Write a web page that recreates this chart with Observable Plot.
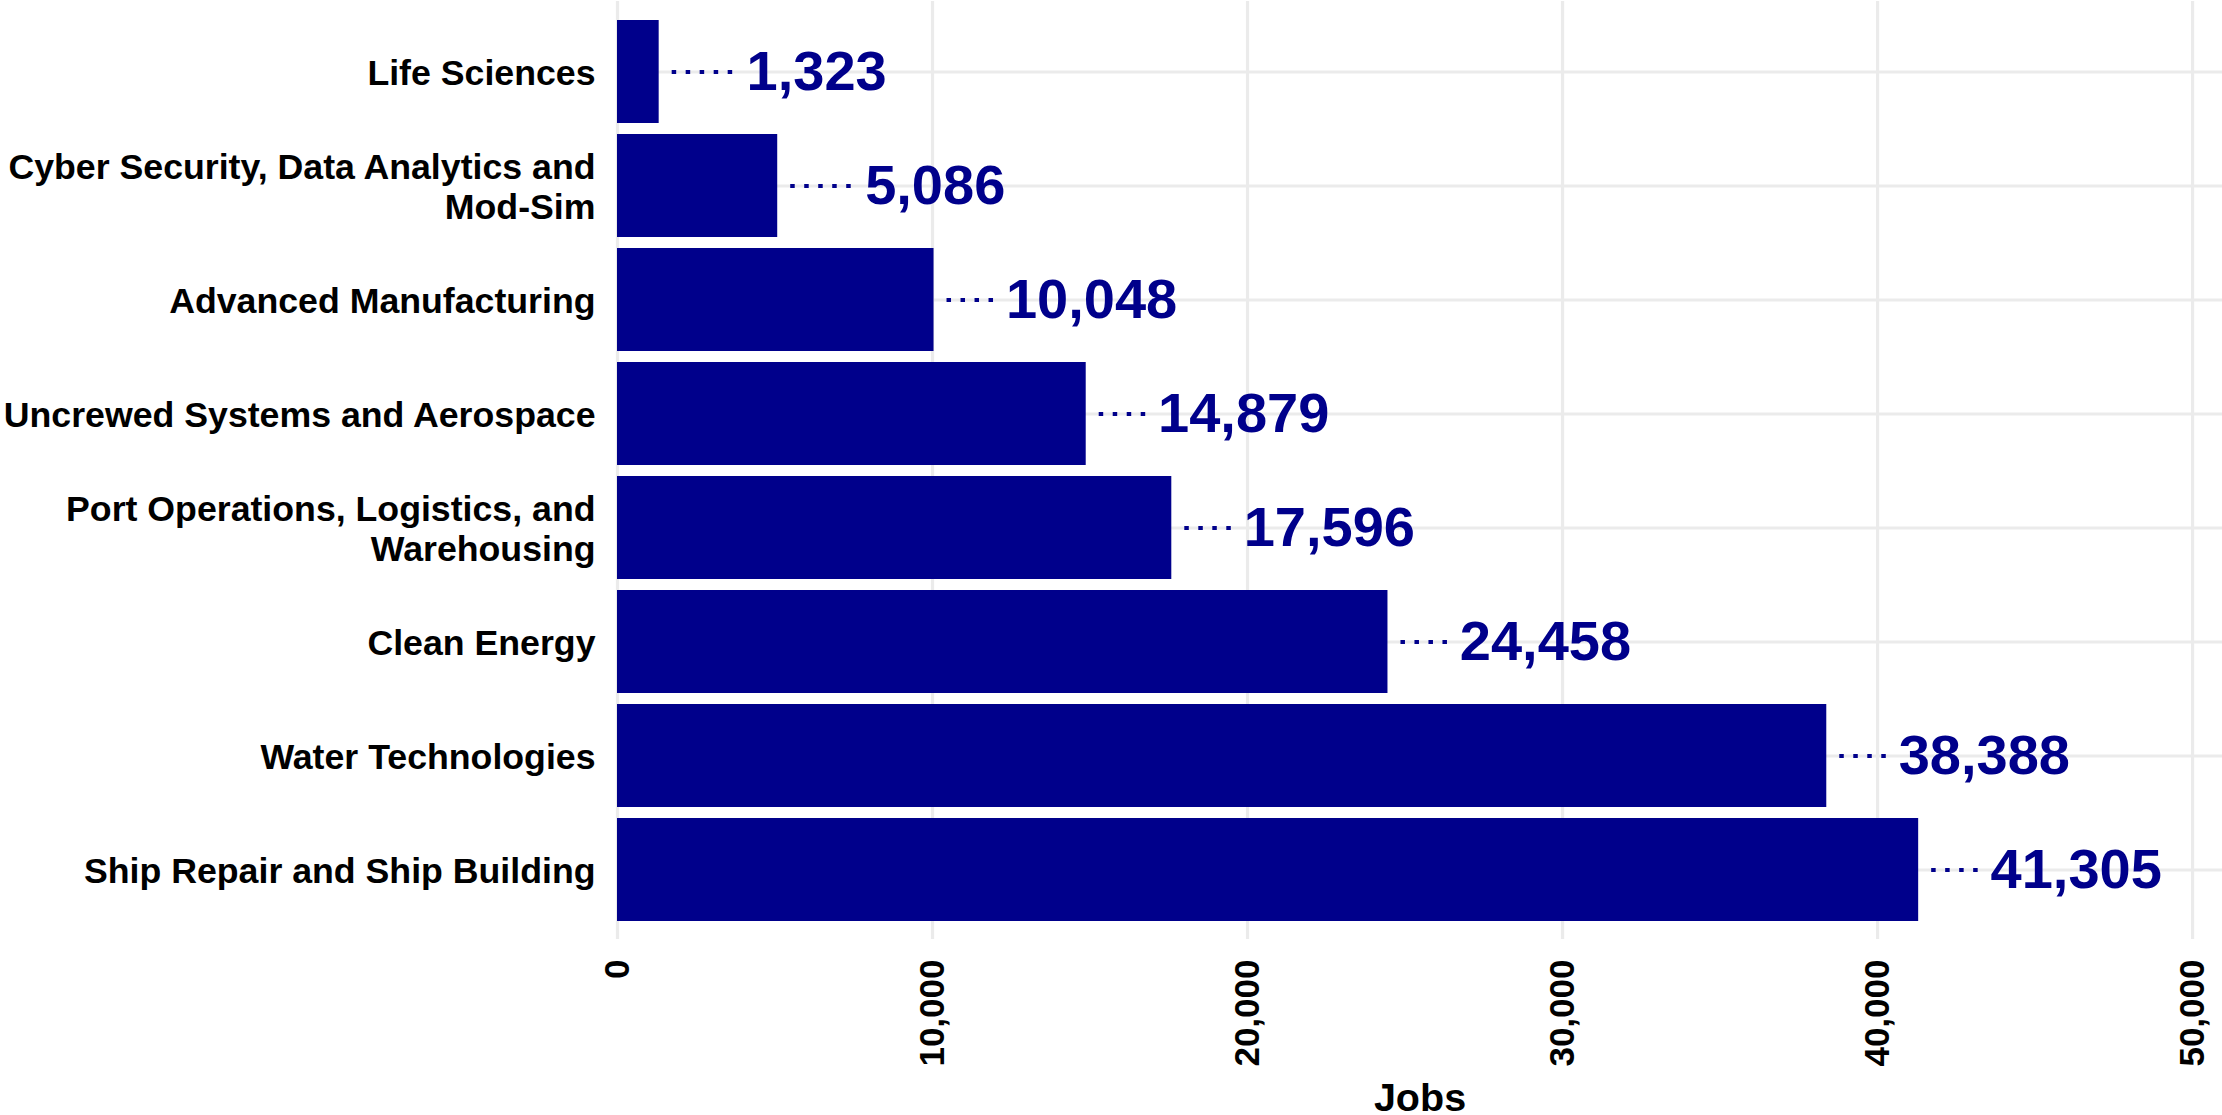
<!DOCTYPE html>
<html>
<head>
<meta charset="utf-8">
<script src="https://cdn.jsdelivr.net/npm/d3@7"></script>
<script src="https://cdn.jsdelivr.net/npm/@observablehq/plot@0.6"></script>
<style>
  html, body { margin: 0; padding: 0; background: white; }
</style>
</head>
<body>
<div id="chart"></div>
<script>
const categories = [
  "Life Sciences",
  "Cyber Security, Data Analytics and\nMod-Sim",
  "Advanced Manufacturing",
  "Uncrewed Systems and Aerospace",
  "Port Operations, Logistics, and\nWarehousing",
  "Clean Energy",
  "Water Technologies",
  "Ship Repair and Ship Building"
];
const jobs = [1323, 5086, 10048, 14879, 17596, 24458, 38388, 41305];
const xTicks = [0, 10000, 20000, 30000, 40000, 50000];
const labelNudge = 5000;

const data = categories.map((c, i) => ({cat: c, jobs: jobs[i]}));
const fmt = d3.format(",");

const W = 2222, H = 1115, ML = 617, MR = 0;
const xMax = 50950;
const pxPerUnit = (W - ML - MR) / xMax;
const valueFont = 56;
// approximate label half-width in px (Liberation Sans Bold metrics)
const halfWidthPx = s => {
  let w = 0;
  for (const ch of s) w += (ch === "," ? 0.278 : 0.556);
  return w * valueFont / 2;
};

const chart = Plot.plot({
  width: W,
  height: H,
  marginLeft: ML,
  marginRight: MR,
  marginTop: 1,
  marginBottom: 176,
  style: {fontFamily: "'Liberation Sans', Arial, sans-serif", background: "white", overflow: "visible"},
  x: {domain: [0, xMax]},
  y: {domain: categories, paddingInner: 0.1, paddingOuter: 0.15},
  marks: [
    Plot.gridX(xTicks, {stroke: "#EBEBEB", strokeOpacity: 1, strokeWidth: 3.2}),
    Plot.gridY({stroke: "#EBEBEB", strokeOpacity: 1, strokeWidth: 3.2}),
    Plot.barX(data, {x: "jobs", y: "cat", fill: "#00008B"}),
    Plot.ruleY(data, {
      y: "cat",
      x1: d => d.jobs + 13 / pxPerUnit,
      x2: d => d.jobs + labelNudge - (halfWidthPx(fmt(d.jobs)) + 6) / pxPerUnit,
      stroke: "#00008B",
      strokeWidth: 3.8,
      strokeDasharray: "4.5 9.5"
    }),
    Plot.text(data, {
      x: d => d.jobs + labelNudge,
      y: "cat",
      text: d => fmt(d.jobs),
      fill: "#00008B",
      fontSize: valueFont,
      fontWeight: "bold"
    }),
    Plot.axisY({tickSize: 0, tickPadding: 22, fontSize: 35.7, fontWeight: "bold", fill: "black", lineHeight: 1.14, label: null}),
    Plot.axisX(xTicks, {tickSize: 0, tickPadding: 20, tickRotate: -90, fontSize: 35, fontWeight: "bold", fill: "black", tickFormat: fmt, label: null}),
    Plot.axisX({ticks: [], tickSize: 0, label: "Jobs", labelAnchor: "center", labelArrow: "none", labelOffset: 171, fontSize: 39.5, fontWeight: "bold", fill: "black"})
  ]
});
document.getElementById("chart").appendChild(chart);
</script>
</body>
</html>
